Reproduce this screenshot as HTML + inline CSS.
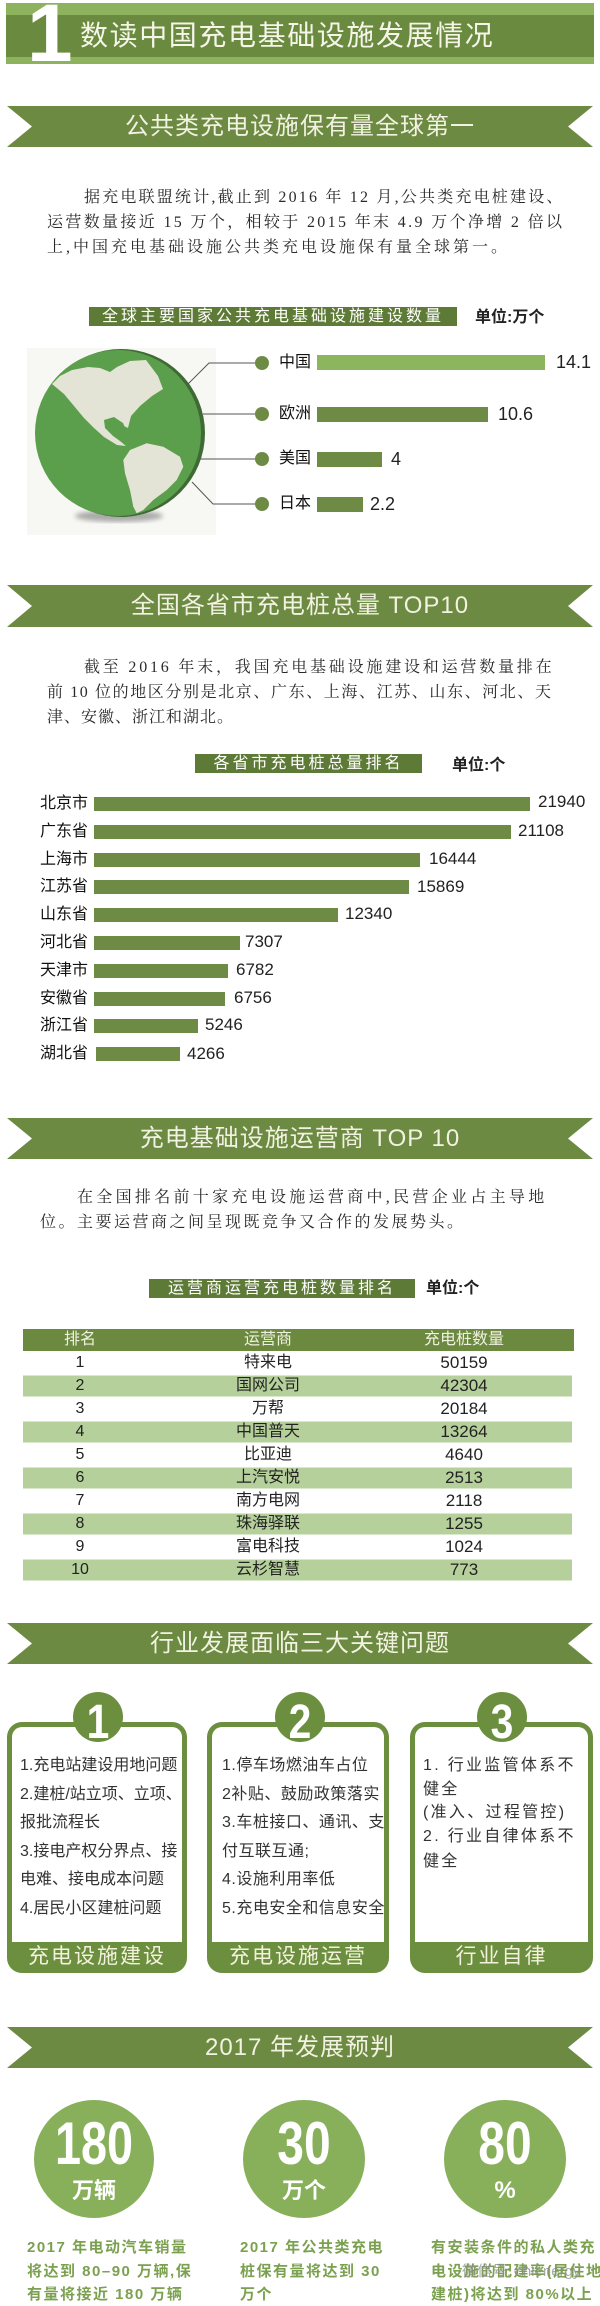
<!DOCTYPE html>
<html><head><meta charset="utf-8">
<style>
*{margin:0;padding:0;box-sizing:border-box}
body{width:600px;height:2306px;background:#fff;position:relative;overflow:hidden;font-family:"Liberation Sans","Noto Sans CJK SC",sans-serif;color:#222}
svg.bg{position:absolute;left:0;top:0}
.t{position:absolute;white-space:nowrap}
.ser{font-family:"Liberation Serif","Noto Serif CJK SC",serif;font-size:16px;color:#2a2a2a;height:24px;line-height:24px}
.ban{left:0;width:600px;height:41px;line-height:41px;text-align:center;font-size:24px;color:#f2f2e2;letter-spacing:1px}
.ct{font-size:16px;color:#fff;height:19px;line-height:19px;text-align:center;letter-spacing:3px}
.unit{font-size:16px;font-weight:bold;color:#222;height:20px;line-height:20px}
.lab{font-size:16px;color:#111;height:20px;line-height:20px}
.val{font-size:17px;color:#222;height:20px;line-height:20px}
.tc{width:160px;text-align:center;font-size:16px;height:22px;line-height:22px;color:#222}
.th{color:#f0f0e0}
.bx{font-size:16px;color:#333;height:22px;line-height:22px}
.ft{font-size:21px;color:#f3f1dc;letter-spacing:2px;text-align:center;height:30px;line-height:30px}
.num{font-weight:bold;color:#fff;text-align:center}
.cap{font-size:15px;font-weight:bold;color:#7ba150;letter-spacing:1.5px;height:20px;line-height:20px}
</style></head><body>
<svg class="bg" width="600" height="2306" viewBox="0 0 600 2306">
<defs>
<clipPath id="gc"><circle cx="118" cy="433" r="83"/></clipPath>
<filter id="bl"><feGaussianBlur stdDeviation="2.5"/></filter>
</defs>
<rect x="6" y="3" width="588" height="61" fill="#8db35f"/>
<rect x="6" y="15" width="588" height="42" fill="#6a8a3f"/>
<polygon points="7,106 593,106 568,126.5 593,147 7,147 32,126.5" fill="#6c8a41"/>
<polygon points="7,585 593,585 568,606 593,627 7,627 32,606" fill="#6c8a41"/>
<polygon points="7,1118 593,1118 568,1138.5 593,1159 7,1159 32,1138.5" fill="#6c8a41"/>
<polygon points="7,1623 593,1623 568,1643.5 593,1664 7,1664 32,1643.5" fill="#6c8a41"/>
<polygon points="7,2027 593,2027 568,2047.5 593,2068 7,2068 32,2047.5" fill="#6c8a41"/>
<rect x="89" y="307" width="368" height="19" fill="#5d7a37"/>
<rect x="195" y="754" width="227" height="19" fill="#5d7a37"/>
<rect x="149" y="1279" width="266" height="19" fill="#5d7a37"/>
<rect x="27" y="348" width="189" height="187" fill="#f7f7f4"/>
<ellipse cx="119" cy="516" rx="44" ry="6" fill="#777" opacity=".6" filter="url(#bl)"/>
<circle cx="121" cy="433" r="84" fill="#3e6a34"/>
<circle cx="118" cy="433" r="83" fill="#5b9e4c"/>
<g clip-path="url(#gc)" fill="#e4e4d6">
<path d="M52,384 L60,376 L72,370 L88,367 L100,368 L110,372 L117,367 L130,361 L146,360 L158,376 L163,389 L152,396 L140,406 L131,416 L127,432 L123,423 L114,417 L104,420 L105,428 L113,436 L120,441 L126,446 L117,445 L104,437 L94,428 L84,418 L74,406 L64,394 Z"/>
<path d="M130,450 L146.7,443.3 L163.3,446.7 L180,456.7 L183.3,466.7 L176.7,480 L166.7,490 L153.3,500 L143.3,510 L136.7,513.3 L133.3,506.7 L130,490 L125,473.3 L123.3,460 Z"/>
<path d="M96,364 L104,360 L112,364 L106,368 Z" fill="#5b9e4c"/>
<path d="M120,424 L128,428 L138,431 L130,433 L121,430 Z" fill="#5b9e4c"/>
</g>
<g stroke="#555" stroke-width="1" fill="none">
<polyline points="188,384 209,363 262,363"/>
<polyline points="203,414 262,414"/>
<polyline points="200,459 262,459"/>
<polyline points="192,482 213,504 262,504"/>
</g>
<g fill="#6e8b45">
<circle cx="262" cy="363" r="7"/>
<circle cx="262" cy="414" r="7"/>
<circle cx="262" cy="459" r="7"/>
<circle cx="262" cy="504" r="7"/>
</g>
<rect x="317" y="355" width="228" height="15" fill="#8db55e"/>
<rect x="317" y="407" width="171" height="15" fill="#6e8b45"/>
<rect x="317" y="452" width="65" height="15" fill="#6e8b45"/>
<rect x="317" y="497" width="46" height="15" fill="#6e8b45"/>
<g fill="#6e8b45">
<rect x="94" y="797" width="436" height="14"/>
<rect x="94" y="825" width="417" height="14"/>
<rect x="94" y="853" width="326" height="14"/>
<rect x="94" y="880" width="315" height="14"/>
<rect x="94" y="908" width="244" height="14"/>
<rect x="94" y="936" width="146" height="14"/>
<rect x="94" y="964" width="134" height="14"/>
<rect x="94" y="992" width="131" height="14"/>
<rect x="94" y="1019" width="104" height="14"/>
<rect x="96" y="1047" width="84" height="14"/>
</g>
<rect x="23" y="1329" width="551" height="22" fill="#6b8a40"/>
<g fill="#b5d09b">
<rect x="23" y="1375.5" width="549" height="21"/>
<rect x="23" y="1421.5" width="549" height="21"/>
<rect x="23" y="1467.5" width="549" height="21"/>
<rect x="23" y="1513.5" width="549" height="21"/>
<rect x="23" y="1559.5" width="549" height="21"/>
</g>
<g fill="#6c8f3f">
<rect x="7" y="1722" width="180" height="251" rx="15"/>
<rect x="207" y="1722" width="182" height="251" rx="15"/>
<rect x="410" y="1722" width="183" height="251" rx="15"/>
</g>
<g fill="#fff">
<rect x="12" y="1727" width="170" height="215" rx="10"/>
<rect x="12" y="1900" width="170" height="42"/>
<rect x="212" y="1727" width="172" height="215" rx="10"/>
<rect x="212" y="1900" width="172" height="42"/>
<rect x="415" y="1727" width="173" height="215" rx="10"/>
<rect x="415" y="1900" width="173" height="42"/>
</g>
<g fill="#6c8f3f">
<circle cx="98" cy="1717" r="25"/>
<circle cx="300" cy="1717" r="25"/>
<circle cx="502" cy="1717" r="25"/>
</g>
<g fill="#88b05a">
<ellipse cx="94" cy="2159" rx="60" ry="59"/>
<ellipse cx="304" cy="2159" rx="61" ry="59"/>
<ellipse cx="505" cy="2159" rx="61" ry="59"/>
</g>
</svg>

<div class="t" style="left:27px;top:-7px;font-size:82px;line-height:82px;font-weight:bold;color:#fff">1</div>
<div class="t" style="left:80px;top:16px;font-size:28px;line-height:40px;color:#f5f5e8;letter-spacing:1.6px">数读中国充电基础设施发展情况</div>

<div class="t ban" style="top:106px">公共类充电设施保有量全球第一</div>
<div class="t ser" style="left:84px;top:186px;letter-spacing:2.2px">据充电联盟统计,截止到 2016 年 12 月,公共类充电桩建设、</div>
<div class="t ser" style="left:47px;top:211px;letter-spacing:2.35px">运营数量接近 15 万个，相较于 2015 年末 4.9 万个净增 2 倍以</div>
<div class="t ser" style="left:47px;top:236px;letter-spacing:3px">上,中国充电基础设施公共类充电设施保有量全球第一。</div>

<div class="t ct" style="left:89px;width:368px;top:307px">全球主要国家公共充电基础设施建设数量</div>
<div class="t unit" style="left:475px;top:308px">单位:万个</div>

<div class="t lab" style="left:279px;top:353px">中国</div>
<div class="t lab" style="left:279px;top:404px">欧洲</div>
<div class="t lab" style="left:279px;top:449px">美国</div>
<div class="t lab" style="left:279px;top:494px">日本</div>
<div class="t val" style="left:556px;top:352px;font-size:18px">14.1</div>
<div class="t val" style="left:498px;top:404px;font-size:18px">10.6</div>
<div class="t val" style="left:391px;top:449px;font-size:18px">4</div>
<div class="t val" style="left:370px;top:494px;font-size:18px">2.2</div>

<div class="t ban" style="top:585px">全国各省市充电桩总量 TOP10</div>
<div class="t ser" style="left:84px;top:656px;letter-spacing:2.8px">截至 2016 年末，我国充电基础设施建设和运营数量排在</div>
<div class="t ser" style="left:47px;top:681px;letter-spacing:1.6px">前 10 位的地区分别是北京、广东、上海、江苏、山东、河北、天</div>
<div class="t ser" style="left:47px;top:706px;letter-spacing:1px">津、安徽、浙江和湖北。</div>

<div class="t ct" style="left:195px;width:227px;top:754px">各省市充电桩总量排名</div>
<div class="t unit" style="left:452px;top:756px">单位:个</div>

<div class="t lab" style="left:40px;top:794px">北京市</div>
<div class="t lab" style="left:40px;top:822px">广东省</div>
<div class="t lab" style="left:40px;top:850px">上海市</div>
<div class="t lab" style="left:40px;top:877px">江苏省</div>
<div class="t lab" style="left:40px;top:905px">山东省</div>
<div class="t lab" style="left:40px;top:933px">河北省</div>
<div class="t lab" style="left:40px;top:961px">天津市</div>
<div class="t lab" style="left:40px;top:989px">安徽省</div>
<div class="t lab" style="left:40px;top:1016px">浙江省</div>
<div class="t lab" style="left:40px;top:1044px">湖北省</div>
<div class="t val" style="left:538px;top:792px">21940</div>
<div class="t val" style="left:518px;top:821px">21108</div>
<div class="t val" style="left:429px;top:849px">16444</div>
<div class="t val" style="left:417px;top:877px">15869</div>
<div class="t val" style="left:345px;top:904px">12340</div>
<div class="t val" style="left:245px;top:932px">7307</div>
<div class="t val" style="left:236px;top:960px">6782</div>
<div class="t val" style="left:234px;top:988px">6756</div>
<div class="t val" style="left:205px;top:1015px">5246</div>
<div class="t val" style="left:187px;top:1044px">4266</div>

<div class="t ban" style="top:1118px">充电基础设施运营商 TOP 10</div>
<div class="t ser" style="left:77px;top:1186px;letter-spacing:3.3px">在全国排名前十家充电设施运营商中,民营企业占主导地</div>
<div class="t ser" style="left:40px;top:1211px;letter-spacing:2.5px">位。主要运营商之间呈现既竞争又合作的发展势头。</div>

<div class="t ct" style="left:149px;width:266px;top:1279px">运营商运营充电桩数量排名</div>
<div class="t unit" style="left:426px;top:1279px">单位:个</div>

<div class="t tc th" style="left:0px;top:1329px">排名</div>
<div class="t tc th" style="left:188px;top:1329px">运营商</div>
<div class="t tc th" style="left:384px;top:1329px">充电桩数量</div>

<div class="t tc" style="left:0px;top:1352px">1</div><div class="t tc" style="left:188px;top:1352px">特来电</div><div class="t tc" style="left:384px;top:1352px;font-size:17px">50159</div>
<div class="t tc" style="left:0px;top:1375px">2</div><div class="t tc" style="left:188px;top:1375px">国网公司</div><div class="t tc" style="left:384px;top:1375px;font-size:17px">42304</div>
<div class="t tc" style="left:0px;top:1398px">3</div><div class="t tc" style="left:188px;top:1398px">万帮</div><div class="t tc" style="left:384px;top:1398px;font-size:17px">20184</div>
<div class="t tc" style="left:0px;top:1421px">4</div><div class="t tc" style="left:188px;top:1421px">中国普天</div><div class="t tc" style="left:384px;top:1421px;font-size:17px">13264</div>
<div class="t tc" style="left:0px;top:1444px">5</div><div class="t tc" style="left:188px;top:1444px">比亚迪</div><div class="t tc" style="left:384px;top:1444px;font-size:17px">4640</div>
<div class="t tc" style="left:0px;top:1467px">6</div><div class="t tc" style="left:188px;top:1467px">上汽安悦</div><div class="t tc" style="left:384px;top:1467px;font-size:17px">2513</div>
<div class="t tc" style="left:0px;top:1490px">7</div><div class="t tc" style="left:188px;top:1490px">南方电网</div><div class="t tc" style="left:384px;top:1490px;font-size:17px">2118</div>
<div class="t tc" style="left:0px;top:1513px">8</div><div class="t tc" style="left:188px;top:1513px">珠海驿联</div><div class="t tc" style="left:384px;top:1513px;font-size:17px">1255</div>
<div class="t tc" style="left:0px;top:1536px">9</div><div class="t tc" style="left:188px;top:1536px">富电科技</div><div class="t tc" style="left:384px;top:1536px;font-size:17px">1024</div>
<div class="t tc" style="left:0px;top:1559px">10</div><div class="t tc" style="left:188px;top:1559px">云杉智慧</div><div class="t tc" style="left:384px;top:1559px;font-size:17px">773</div>

<div class="t ban" style="top:1623px">行业发展面临三大关键问题</div>
<div class="t num" style="left:48px;width:100px;top:1699px;font-size:48px;line-height:48px;transform:scaleX(.85)">1</div>
<div class="t num" style="left:250px;width:100px;top:1699px;font-size:48px;line-height:48px;transform:scaleX(.85)">2</div>
<div class="t num" style="left:452px;width:100px;top:1699px;font-size:48px;line-height:48px;transform:scaleX(.85)">3</div>

<div class="t bx" style="left:20px;top:1755px">1.充电站建设用地问题</div>
<div class="t bx" style="left:20px;top:1784px">2.建桩/站立项、立项、</div>
<div class="t bx" style="left:20px;top:1812px">报批流程长</div>
<div class="t bx" style="left:20px;top:1841px">3.接电产权分界点、接</div>
<div class="t bx" style="left:20px;top:1869px">电难、接电成本问题</div>
<div class="t bx" style="left:20px;top:1898px">4.居民小区建桩问题</div>

<div class="t bx" style="left:222px;top:1755px;letter-spacing:.5px">1.停车场燃油车占位</div>
<div class="t bx" style="left:222px;top:1784px;letter-spacing:.5px">2补贴、鼓励政策落实</div>
<div class="t bx" style="left:222px;top:1812px;letter-spacing:.5px">3.车桩接口、通讯、支</div>
<div class="t bx" style="left:222px;top:1841px;letter-spacing:.5px">付互联互通;</div>
<div class="t bx" style="left:222px;top:1869px;letter-spacing:.5px">4.设施利用率低</div>
<div class="t bx" style="left:222px;top:1898px;letter-spacing:.5px">5.充电安全和信息安全</div>

<div class="t bx" style="left:423px;top:1755px;letter-spacing:2.3px">1. 行业监管体系不</div>
<div class="t bx" style="left:423px;top:1779px;letter-spacing:2.3px">健全</div>
<div class="t bx" style="left:423px;top:1802px;letter-spacing:2.3px">(准入、过程管控)</div>
<div class="t bx" style="left:423px;top:1826px;letter-spacing:2.3px">2. 行业自律体系不</div>
<div class="t bx" style="left:423px;top:1851px;letter-spacing:2.3px">健全</div>

<div class="t ft" style="left:7px;width:180px;top:1942px">充电设施建设</div>
<div class="t ft" style="left:207px;width:182px;top:1942px">充电设施运营</div>
<div class="t ft" style="left:410px;width:183px;top:1942px">行业自律</div>

<div class="t ban" style="top:2027px">2017 年发展预判</div>
<div class="t num" style="left:24px;width:140px;top:2114px;font-size:60px;line-height:60px;transform:scaleX(.78)">180</div>
<div class="t num" style="left:234px;width:140px;top:2114px;font-size:60px;line-height:60px;transform:scaleX(.8)">30</div>
<div class="t num" style="left:435px;width:140px;top:2114px;font-size:60px;line-height:60px;transform:scaleX(.8)">80</div>
<div class="t num" style="left:34px;width:120px;top:2178px;font-size:22px;line-height:26px">万辆</div>
<div class="t num" style="left:244px;width:120px;top:2178px;font-size:22px;line-height:26px">万个</div>
<div class="t num" style="left:445px;width:120px;top:2178px;font-size:24px;line-height:26px">%</div>

<div class="t cap" style="left:27px;top:2238px">2017 年电动汽车销量</div>
<div class="t cap" style="left:27px;top:2262px">将达到 80–90 万辆,保</div>
<div class="t cap" style="left:27px;top:2285px">有量将接近 180 万辆</div>
<div class="t cap" style="left:240px;top:2238px">2017 年公共类充电</div>
<div class="t cap" style="left:240px;top:2262px">桩保有量将达到 30</div>
<div class="t cap" style="left:240px;top:2285px">万个</div>
<div class="t cap" style="left:431px;top:2238px">有安装条件的私人类充</div>
<div class="t cap" style="left:431px;top:2262px">电设施的配建率(居住地</div>
<div class="t cap" style="left:431px;top:2285px">建桩)将达到 80%以上</div>
<div class="t" style="left:462px;top:2262px;font-size:15px;line-height:20px;color:rgba(140,140,140,.75)">微信号: chienergy</div>
</body></html>
